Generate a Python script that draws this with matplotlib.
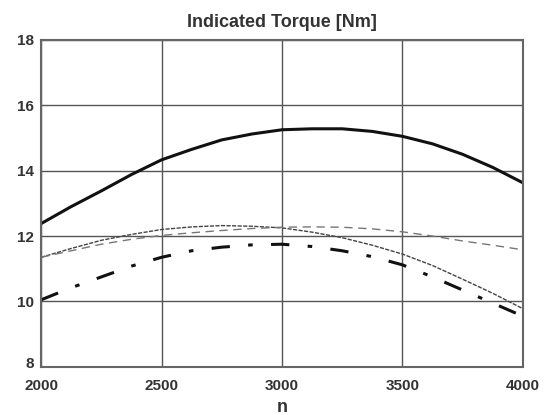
import matplotlib
matplotlib.use("Agg")
import matplotlib.pyplot as plt
from matplotlib.transforms import ScaledTranslation

plt.rcParams['font.family'] = ['Liberation Sans', 'DejaVu Sans']

# engine speed n
n = [2000, 2125, 2250, 2375, 2500, 2625, 2750, 2875, 3000,
     3125, 3250, 3375, 3500, 3625, 3750, 3875, 4000]

# indicated torque curves [Nm]
torque_thick = [12.38, 12.9, 13.38, 13.88, 14.33, 14.65, 14.94, 15.12, 15.25,
                15.28, 15.28, 15.2, 15.05, 14.82, 14.5, 14.1, 13.63]
torque_fine = [11.35, 11.62, 11.87, 12.05, 12.2, 12.28, 12.32, 12.3, 12.25,
               12.12, 11.95, 11.72, 11.45, 11.1, 10.68, 10.25, 9.78]
torque_dashed = [11.35, 11.55, 11.75, 11.9, 12.02, 12.1, 12.17, 12.23, 12.27,
                 12.28, 12.27, 12.22, 12.13, 12.0, 11.85, 11.72, 11.58]
torque_dashdot = [10.05, 10.42, 10.75, 11.08, 11.35, 11.55, 11.66, 11.73, 11.75,
                  11.68, 11.55, 11.37, 11.12, 10.75, 10.35, 9.95, 9.55]

xticks = [2000, 2500, 3000, 3500, 4000]
yticks = [8, 10, 12, 14, 16, 18]

fig = plt.figure(figsize=(5.55, 4.15), dpi=100)
ax = fig.add_axes([0.074, 0.116, 0.868, 0.788])

ax.plot(n, torque_thick, color='#111111', lw=2.2, solid_capstyle='butt')
ax.plot(n, torque_fine, color='#444444', lw=1.0, linestyle=(0, (3, 1)))
ax.plot(n, torque_dashed, color='#777777', lw=1.0, linestyle=(0, (6, 4)))
ax.plot(n, torque_dashdot, color='#111111', lw=2.2, linestyle=(0, (6, 6, 1.5, 6)))

ax.set_xlim(2000, 4000)
ax.set_ylim(8, 18)
ax.set_xticks(xticks)
ax.set_yticks(yticks)
ax.grid(True, color='#555555', lw=1.0)
ax.tick_params(length=0, labelsize=11, labelcolor='#333333')
ax.tick_params(axis='x', pad=9)
ax.tick_params(axis='y', pad=5)
for lab in ax.get_xticklabels() + ax.get_yticklabels():
    lab.set_fontweight('bold')
# nudge the "8" a little up so it clears "2000"
lab8 = ax.get_yticklabels()[0]
lab8.set_transform(lab8.get_transform() + ScaledTranslation(0, 3 / 72, fig.dpi_scale_trans))
for s in ax.spines.values():
    s.set_color('#666666')
    s.set_linewidth(1.5)

ax.set_title('Indicated Torque [Nm]', fontsize=13, fontweight='bold',
             color='#333333', pad=9)
ax.set_xlabel('n', fontsize=13, fontweight='bold', color='#333333', labelpad=4)

fig.savefig('out.png', dpi=100)
